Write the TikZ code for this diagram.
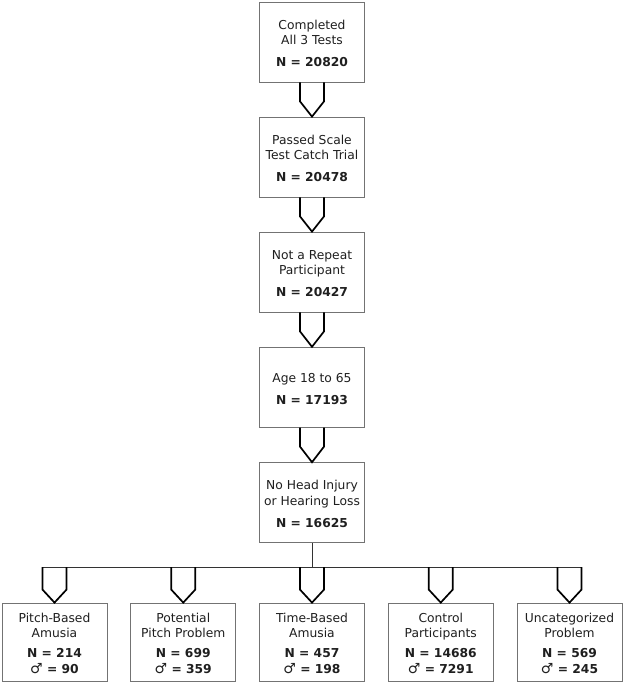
\documentclass[tikz,border=0pt]{standalone}
\usepackage{fontspec}
\setmainfont{DejaVu Sans}
\usetikzlibrary{calc}
\newcommand{\boxtext}[2]{\raisebox{-#1}[\height][\depth]{\begin{tabular}{@{}c@{}}#2\end{tabular}}}
\newcommand{\malesym}{{\fontsize{14}{15.5}\selectfont\mdseries ♂}}
\tikzset{
  box/.style={draw=black!55, line width=0.8pt, fill=white, minimum width=105pt, minimum height=80pt,
    inner sep=1pt, text=black!88, font=\fontsize{12.3}{15.5}\selectfont},
  lowbox/.style={box, minimum height=78pt},
  barrow/.style={draw=black, line width=1.7pt, line join=miter},
  link/.style={draw=black!80, line width=1pt}
}
\begin{document}
\begin{tikzpicture}[x=1pt,y=-1pt]
\useasboundingbox (0,0) rectangle (624,685);
% main column
\node[box] (b1) at (312,42) {\boxtext{3pt}{Completed\\All 3 Tests\\[6.5pt]\textbf{N = 20820}}};
\node[box] (b2) at (312,157) {\boxtext{3pt}{Passed Scale\\Test Catch Trial\\[6.5pt]\textbf{N = 20478}}};
\node[box] (b3) at (312,272) {\boxtext{3pt}{Not a Repeat\\Participant\\[6.5pt]\textbf{N = 20427}}};
\node[box] (b4) at (312,387.2) {\boxtext{3pt}{Age 18 to 65\\[6.5pt]\textbf{N = 17193}}};
\node[box] (b5) at (312,502.6) {\boxtext{3pt}{No Head Injury\\or Hearing Loss\\[6.5pt]\textbf{N = 16625}}};
% bottom row
\node[lowbox] (c1) at (54.5,642) {\boxtext{2.5pt}{Pitch-Based\\Amusia\\[4.5pt]\textbf{N = 214}\\\malesym\textbf{ = 90}}};
\node[lowbox] (c2) at (183.25,642) {\boxtext{2.5pt}{Potential\\Pitch Problem\\[4.5pt]\textbf{N = 699}\\\malesym\textbf{ = 359}}};
\node[lowbox] (c3) at (312,642) {\boxtext{2.5pt}{Time-Based\\Amusia\\[4.5pt]\textbf{N = 457}\\\malesym\textbf{ = 198}}};
\node[lowbox] (c4) at (440.75,642) {\boxtext{2.5pt}{Control\\Participants\\[4.5pt]\textbf{N = 14686}\\\malesym\textbf{ = 7291}}};
\node[lowbox] (c5) at (569.5,642) {\boxtext{2.5pt}{Uncategorized\\Problem\\[4.5pt]\textbf{N = 569}\\\malesym\textbf{ = 245}}};
% block arrows between main boxes
\foreach \a/\b in {b1/b2,b2/b3,b3/b4,b4/b5}{
  \draw[barrow] ([xshift=-12pt]\a.south) -- ([xshift=-12pt,yshift=-19pt]\a.south)
     -- (\b.north) -- ([xshift=12pt,yshift=-19pt]\a.south) -- ([xshift=12pt]\a.south);
}
% junction bar
\coordinate (j) at (312,567);
\draw[link] (b5.south) -- (j);
\coordinate (barL) at ($(c1.north |- j)+(-12,0)$);
\coordinate (barR) at ($(c5.north |- j)+(12,0)$);
\draw[link] (barL) -- (barR);
\foreach \c in {c1,c2,c3,c4,c5}{
  \draw[barrow] ($(\c.north |- j)+(-12,0)$) -- ($(\c.north)+(-12,-13)$)
     -- (\c.north) -- ($(\c.north)+(12,-13)$) -- ($(\c.north |- j)+(12,0)$);
}
\end{tikzpicture}
\end{document}
